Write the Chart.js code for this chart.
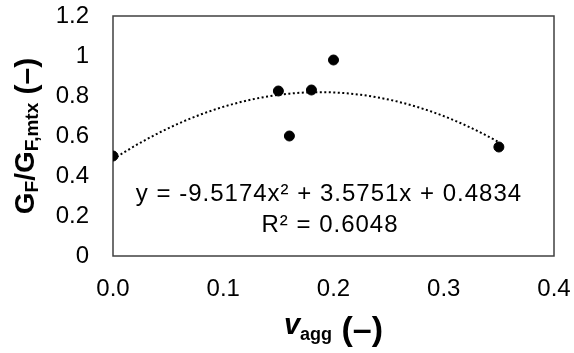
<!DOCTYPE html>
<html>
<head>
<meta charset="utf-8">
<script src="https://cdn.jsdelivr.net/npm/chart.js@4.4.0/dist/chart.umd.min.js"></script>
<style>
  html, body { margin: 0; padding: 0; background: #fff; }
  #wrap { width: 574px; height: 353px; }
</style>
</head>
<body>
<div id="wrap"><canvas id="chart"></canvas></div>
<script>
const vAgg = [0, 0.15, 0.16, 0.18, 0.2, 0.35];
const gRatio = [0.5, 0.825, 0.6, 0.83, 0.98, 0.545];

// polynomial trendline as printed on the figure: a*x^2 + b*x + c
const trendCoef = [-9.5174, 3.5751, 0.4834];
const trendRange = [0, 0.35];
const eqLines = ['y = -9.5174x² + 3.5751x + 0.4834', 'R² = 0.6048'];

const xTicks = [0, 0.1, 0.2, 0.3, 0.4];
const yTicks = [0, 0.2, 0.4, 0.6, 0.8, 1, 1.2];

const FONT = "'Liberation Sans', Arial, sans-serif";

const points = vAgg.map((x, i) => ({ x: x, y: gRatio[i] }));
const trend = [];
for (let x = trendRange[0]; x <= trendRange[1] + 1e-9; x += 0.005) {
    trend.push({ x: x, y: trendCoef[0] * x * x + trendCoef[1] * x + trendCoef[2] });
}

// draws a run of differently styled pieces centred on (x, y)
function drawRich(ctx, segs, x, y) {
    let w = 0;
    segs.forEach(s => { ctx.font = s.font; w += ctx.measureText(s.t).width; });
    let cx = x - w / 2;
    segs.forEach(s => {
        ctx.font = s.font;
        ctx.fillText(s.t, cx, y + (s.dy || 0));
        cx += ctx.measureText(s.t).width;
    });
}

const extras = {
    id: 'extras',
    beforeDatasetsDraw(chart) {
        const { ctx, chartArea: a } = chart;
        ctx.save();
        ctx.strokeStyle = '#404040';
        ctx.lineWidth = 1.5;
        ctx.strokeRect(a.left, a.top, a.right - a.left, a.bottom - a.top);
        ctx.restore();
    },
    afterDraw(chart) {
        const { ctx, chartArea: a } = chart;
        ctx.save();
        ctx.fillStyle = '#000';
        ctx.textBaseline = 'alphabetic';
        ctx.textAlign = 'left';

        // trendline equation
        ctx.letterSpacing = '1px';
        const big = '24px ' + FONT;
        drawRich(ctx, [{ t: eqLines[0], font: big }], 329, 201);
        drawRich(ctx, [{ t: eqLines[1], font: big }], 330, 232);
        ctx.letterSpacing = '0px';

        // x title
        drawRich(ctx, [
            { t: 'v', font: 'italic bold 29px ' + FONT },
            { t: 'agg', font: 'bold 18px ' + FONT, dy: 6 },
            { t: ' (–)', font: 'bold 34px ' + FONT, dy: 6 }
        ], (a.left + a.right) / 2, 334);

        // y title
        ctx.translate(34, (a.top + a.bottom) / 2);
        ctx.rotate(-Math.PI / 2);
        const b = 'bold 28px ' + FONT;
        const sub = 'bold 19px ' + FONT;
        drawRich(ctx, [
            { t: 'G', font: b },
            { t: 'F', font: sub, dy: 4 },
            { t: '/', font: b },
            { t: 'G', font: b },
            { t: 'F,mtx', font: sub, dy: 4 },
            { t: ' (–)', font: 'bold 30px ' + FONT, dy: 2 }
        ], 0, 0);
        ctx.restore();
    }
};

new Chart(document.getElementById('chart'), {
    type: 'scatter',
    data: {
        datasets: [
            {
                data: trend,
                showLine: true,
                pointRadius: 0,
                borderColor: '#000',
                borderWidth: 2,
                borderDash: [2, 2.5],
                fill: false,
                order: 2
            },
            {
                data: points,
                pointRadius: 5,
                pointHoverRadius: 5,
                backgroundColor: '#000',
                borderColor: '#000',
                order: 1
            }
        ]
    },
    options: {
        responsive: true,
        maintainAspectRatio: false,
        animation: false,
        layout: { padding: { left: 0, top: 16, right: 20, bottom: 0 } },
        plugins: { legend: { display: false }, tooltip: { enabled: false } },
        scales: {
            x: {
                type: 'linear',
                min: 0,
                max: 0.4,
                afterBuildTicks: s => { s.ticks = xTicks.map(v => ({ value: v })); },
                afterFit: s => { s.height = 97; s.paddingLeft = 0; s.paddingRight = 0; },
                grid: { display: false, drawTicks: false },
                border: { display: false },
                ticks: {
                    maxRotation: 0,
                    padding: 19,
                    color: '#000',
                    font: { family: FONT, size: 24 },
                    callback: v => v.toFixed(1)
                }
            },
            y: {
                min: 0,
                max: 1.2,
                afterBuildTicks: s => { s.ticks = yTicks.map(v => ({ value: v })); },
                afterFit: s => { s.width = 113; s.paddingTop = 0; s.paddingBottom = 0; },
                grid: { display: false, drawTicks: false },
                border: { display: false },
                ticks: {
                    padding: 24,
                    color: '#000',
                    font: { family: FONT, size: 24 },
                    callback: v => String(v)
                }
            }
        }
    },
    plugins: [extras]
});
</script>
</body>
</html>
